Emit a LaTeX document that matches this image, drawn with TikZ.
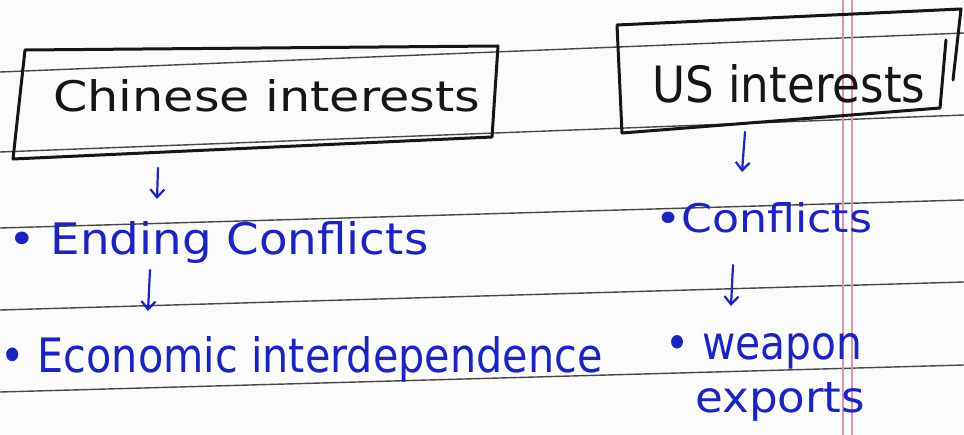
\documentclass[tikz,border=0pt]{standalone}
\usepackage{fontspec}
\setmainfont{DejaVu Sans}
\usetikzlibrary{arrows.meta}
\definecolor{paper}{RGB}{251,251,251}
\definecolor{rule}{RGB}{70,70,75}
\definecolor{margin}{RGB}{212,150,178}
\definecolor{inkblue}{RGB}{28,36,190}
\definecolor{inkblack}{RGB}{22,22,22}
\newcommand{\fitbox}[3]{\resizebox{#1pt}{#2pt}{#3}}
\tikzset{
  ruled/.style={draw=rule, line width=1.4pt},
  marginline/.style={draw=margin, line width=1.2pt},
  headtext/.style={inner sep=0pt, anchor=base west, text=inkblack},
  bluetext/.style={inner sep=0pt, anchor=base west, text=inkblue},
  boxline/.style={draw=inkblack, line width=3pt, line join=round, line cap=round},
  penarrow/.style={draw=inkblue, line width=2.2pt, line cap=round, -{Straight Barb[length=8pt,width=14pt]}}
}
\begin{document}
\begin{tikzpicture}[x=1pt,y=-1pt]
\useasboundingbox (0,0) rectangle (964,435);
\fill[paper] (0,0) rectangle (964,435);
% ruled lines
\draw[ruled] (0,72) -- (964,33);
\draw[ruled] (0,152) -- (964,115);
\draw[ruled] (0,228) -- (964,200);
\draw[ruled] (0,310) -- (964,282);
\draw[ruled] (0,392) -- (964,365);
% margin lines
\draw[marginline] (843,0) -- (843,435);
\draw[marginline] (852,0) -- (852,435);
% headings
\node[headtext] (cn) at (53,112) {\fitbox{427}{32}{Chinese interests}};
\node[headtext] (us) at (652,103) {\fitbox{273}{38}{US interests}};
\draw[boxline] (25,50) -- (498,46) -- (492,137) -- (13,159) -- cycle;
\draw[boxline] (946,40) -- (940,108) -- (622,133) -- (617,25) -- (961,9) -- (953,80);
% items
\node[bluetext] (ec) at (8,255) {\fitbox{420}{33}{\textbullet\ Ending Conflicts}};
\node[bluetext] (co) at (655,233) {\fitbox{217}{30}{\textbullet Conflicts}};
\node[bluetext] (ei) at (0,373) {\fitbox{602}{36}{\textbullet\ Economic interdependence}};
\node[bluetext] (we) at (665,360) {\fitbox{197}{26}{\textbullet\ weapon}};
\node[bluetext] (ex) at (695,413) {\fitbox{170}{30}{exports}};
% arrows
\coordinate (a1s) at (158,168); \coordinate (a1e) at (157,199);
\coordinate (a2s) at (745,132); \coordinate (a2e) at (742,172);
\coordinate (a3s) at (150,270); \coordinate (a3e) at (148,311);
\coordinate (a4s) at (733,265); \coordinate (a4e) at (731,306);
\draw[penarrow] (a1s) -- (a1e);
\draw[penarrow] (a2s) -- (a2e);
\draw[penarrow] (a3s) -- (a3e);
\draw[penarrow] (a4s) -- (a4e);
\end{tikzpicture}
\end{document}
